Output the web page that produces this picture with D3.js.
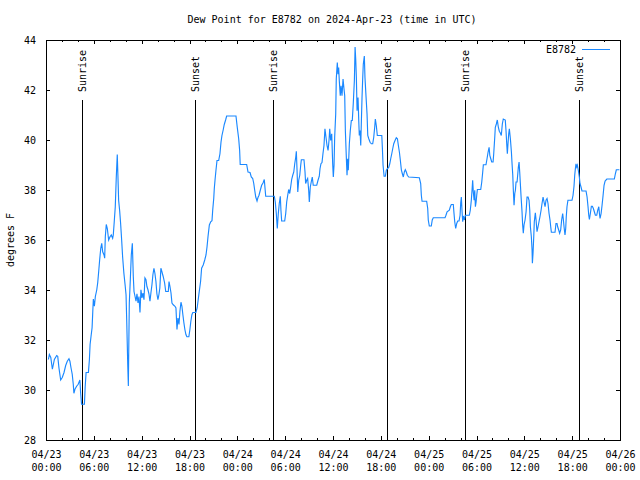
<!DOCTYPE html>
<html>
<head>
<meta charset="utf-8">
<script src="https://cdn.jsdelivr.net/npm/d3@7"></script>
<style>
  html, body { margin: 0; padding: 0; background: #fff; }
  text { font-family: "DejaVu Sans Mono", "Liberation Mono", monospace; font-size: 10px; fill: #000; }
</style>
</head>
<body>
<svg id="chart" width="640" height="480"></svg>
<script>
// ---- data ----
const chartTitle = "Dew Point for E8782 on 2024-Apr-23 (time in UTC)";
const yAxisLabel = "degrees F";
const seriesName = "E8782";
const startTime = "2024-04-23T00:00:00Z";
const endTime = "2024-04-26T00:00:00Z";

// hours since 2024-04-23 00:00 UTC
const hours = [
0.30,0.42,0.60,0.80,1.05,1.34,1.47,1.63,1.84,2.04,2.26,2.47,2.67,2.88,3.00,3.13,3.29,3.42,3.50,3.63,
3.84,4.04,4.25,4.34,4.46,4.82,4.91,5.03,5.32,5.44,5.53,5.65,5.78,5.87,5.94,6.07,6.19,6.37,6.49,6.62,
6.74,6.87,6.99,7.11,7.28,7.36,7.44,7.56,7.69,7.86,8.03,8.19,8.36,8.44,8.56,8.69,8.81,8.94,9.02,9.11,
9.24,9.36,9.49,9.61,9.77,9.92,10.04,10.13,10.25,10.33,10.38,10.45,10.58,10.70,10.83,10.95,11.04,11.17,11.29,11.41,
11.54,11.66,11.79,11.91,12.04,12.16,12.29,12.41,12.54,12.66,12.79,12.91,13.04,13.16,13.29,13.41,13.54,13.66,13.79,13.91,
14.04,14.16,14.28,14.41,14.53,14.70,14.88,15.02,15.34,15.43,15.55,15.68,15.80,15.96,16.18,16.30,16.43,16.55,16.68,16.80,
16.93,17.05,17.17,17.30,17.42,17.55,17.67,17.92,18.05,18.17,18.30,18.42,18.80,18.96,19.17,19.39,19.52,19.72,19.91,20.07,
20.20,20.32,20.49,20.66,20.82,20.91,21.04,21.11,21.20,21.32,21.45,21.66,21.82,21.95,22.07,22.23,22.36,22.53,22.66,23.83,
23.99,24.17,24.29,24.36,25.17,25.34,25.59,25.75,25.93,26.06,26.18,26.31,26.47,26.59,26.72,26.88,27.05,27.22,27.38,27.56,
28.64,28.76,28.89,29.01,29.14,29.26,29.39,29.47,29.56,29.94,30.07,30.19,30.32,30.44,30.57,30.69,30.82,30.95,31.08,31.20,
31.33,31.40,31.49,31.58,31.70,31.83,31.95,32.03,32.36,32.49,32.57,32.70,32.82,32.95,33.03,33.15,33.27,33.40,33.52,33.96,
34.12,34.28,34.37,34.49,34.62,34.74,34.87,34.99,35.12,35.25,35.38,35.50,35.59,35.71,35.84,35.96,36.04,36.13,36.21,36.34,
36.41,36.54,36.63,36.71,36.79,36.91,37.01,37.13,37.26,37.38,37.47,37.55,37.67,37.76,37.84,37.92,38.05,38.17,38.30,38.42,
38.55,38.68,38.77,38.85,38.93,39.02,39.14,39.23,39.30,39.39,39.48,39.55,39.64,39.73,39.80,39.93,40.01,40.15,40.27,40.36,
40.49,40.65,40.81,40.98,41.11,41.23,41.31,41.43,41.56,42.12,42.19,42.28,42.41,42.57,42.69,42.82,42.99,43.12,43.24,43.37,
43.49,43.62,43.78,43.94,44.08,44.20,44.33,44.45,44.58,44.70,44.82,44.95,45.07,45.20,45.32,45.50,46.83,47.00,47.08,47.17,
47.75,47.88,47.95,48.08,48.33,48.45,48.58,50.05,50.17,50.31,50.59,50.72,50.84,51.09,51.18,51.27,51.39,51.52,51.64,51.81,
51.94,52.02,52.10,52.19,52.27,52.35,52.48,52.60,53.10,53.22,53.35,53.44,53.52,53.60,53.70,53.78,53.86,53.95,54.03,54.11,
54.53,54.66,54.78,54.86,55.19,55.32,55.45,55.58,55.67,55.79,55.91,56.08,56.16,56.29,56.36,56.49,56.61,56.74,56.86,56.99,
57.11,57.24,57.36,57.61,57.70,57.79,57.87,57.95,58.04,58.12,58.25,58.38,58.46,58.55,58.63,58.71,58.80,58.88,58.96,59.09,
59.18,59.25,59.34,59.42,59.50,59.58,59.71,59.79,59.87,59.96,60.09,60.22,60.34,60.47,60.59,60.68,60.76,60.88,60.97,61.01,
61.09,61.18,61.25,61.38,61.47,61.59,61.72,61.84,61.96,62.10,62.22,62.35,62.47,62.60,62.72,62.85,62.97,63.10,63.22,63.31,
63.39,63.85,63.97,64.10,64.18,64.31,64.43,64.56,64.68,64.81,64.88,64.98,65.10,65.19,65.26,65.35,65.47,65.98,66.11,66.23,
66.32,66.40,66.48,66.57,66.65,66.77,66.90,66.98,67.11,67.23,67.74,67.87,67.99,68.08,68.16,68.28,68.41,68.53,68.66,68.78,
68.91,69.08,69.21,69.34,69.42,69.50,69.63,69.75,69.88,70.00,70.13,70.35,71.29,71.42,71.54,71.92
];

// dew point, degrees F
const dewPointF = [
31.22,31.42,31.3,30.83,31.22,31.38,31.35,30.87,30.4,30.5,30.7,30.98,31.15,31.25,31.15,30.9,30.63,30.23,29.87,30.03,
30.15,30.23,30.4,29.9,29.43,29.43,30.1,30.7,30.7,31.2,31.82,32.15,32.49,33.15,33.64,33.35,33.74,34.01,34.3,34.78,
35.24,35.67,35.87,35.53,35.4,35.27,36.13,36.62,36.46,36.0,36.13,36.2,36.07,36.2,36.73,37.33,38.46,39.42,38.59,37.59,
37.17,36.66,36.0,35.33,34.67,34.21,33.81,32.71,31.06,30.16,31.62,33.48,34.44,35.4,35.87,34.54,33.94,33.74,33.55,33.85,
33.48,33.74,33.1,34.01,33.68,33.88,33.61,34.48,34.41,34.14,34.01,33.85,33.55,33.88,34.21,34.61,34.87,34.67,34.34,33.85,
33.61,33.81,34.08,34.87,34.74,34.54,34.28,33.94,33.94,34.34,34.14,33.88,33.48,33.41,33.35,33.28,32.42,32.88,32.62,33.15,
33.51,33.35,33.01,32.68,32.42,32.22,32.13,32.13,32.42,32.75,33.01,33.1,33.1,33.28,33.81,34.34,34.87,35.0,35.2,35.4,
35.73,36.13,36.6,36.73,36.77,37.19,37.66,38.06,38.39,38.79,39.18,39.18,39.45,39.91,40.18,40.41,40.62,40.8,40.96,40.96,
40.51,40.05,39.58,39.02,39.02,38.72,38.7,38.52,38.46,38.26,37.99,37.72,37.56,37.7,37.79,37.99,38.19,38.28,38.42,37.75,
37.75,37.52,37.06,36.46,37.06,37.46,37.75,37.19,36.76,36.76,37.06,37.52,37.79,38.02,37.86,38.12,38.43,38.59,38.72,39.05,
39.32,39.55,38.79,37.92,38.39,38.59,38.99,39.21,39.21,38.72,38.26,38.39,38.46,37.99,37.52,38.12,38.32,38.52,38.19,38.19,
38.39,38.55,38.85,39.05,39.1,39.45,39.78,40.45,40.11,39.78,39.58,39.98,40.45,39.98,40.25,39.05,38.52,38.99,40.11,41.04,
42.44,43.1,42.63,42.9,42.37,41.77,42.17,41.77,42.44,42.04,41.77,40.38,39.32,38.59,39.25,38.79,39.85,40.38,40.78,40.78,
41.5,42.37,43.72,43.23,42.5,41.17,41.7,40.78,40.18,40.38,39.78,40.64,41.7,42.5,43.03,43.36,42.5,41.7,41.04,40.18,
40.05,39.91,39.85,39.85,40.11,40.51,40.84,40.58,40.18,40.18,39.71,38.99,38.55,38.55,38.79,38.85,38.9,39.05,39.25,39.45,
39.65,39.85,39.98,40.09,40.05,39.78,39.51,39.18,38.79,38.65,38.52,38.72,38.81,38.72,38.59,38.52,38.49,38.26,37.79,37.55,
37.55,37.26,36.8,36.56,36.56,36.8,36.89,36.89,36.99,37.13,37.19,37.33,37.42,37.42,37.06,36.73,36.46,36.66,36.76,36.76,
36.99,37.49,37.72,37.13,36.73,36.96,36.8,36.99,36.99,37.19,37.59,37.99,38.39,37.92,37.59,37.99,37.33,37.52,37.79,38.02,
38.02,38.32,38.72,39.01,39.01,39.25,39.51,39.71,39.38,39.25,39.12,39.12,39.45,40.11,40.51,40.64,40.8,40.51,40.35,40.28,
40.18,40.64,40.84,40.8,40.38,39.85,39.45,39.85,40.25,40.45,40.05,39.51,39.05,38.59,37.92,37.39,37.86,37.99,38.32,38.32,
38.65,38.92,39.12,38.72,38.26,37.79,37.13,36.6,36.27,36.6,36.8,37.13,37.72,37.72,37.59,37.19,36.53,36.13,35.6,35.07,
35.47,36.13,36.73,37.09,36.8,36.33,36.53,36.73,36.93,37.19,37.46,37.72,37.52,37.33,37.59,37.66,37.46,37.06,36.8,36.53,
36.31,36.31,36.66,36.66,36.53,36.4,36.27,36.4,36.8,37.06,36.86,36.53,36.2,36.46,36.93,37.33,37.59,37.59,37.79,38.15,
38.59,38.85,39.05,38.92,38.99,38.79,38.52,38.26,38.12,37.96,37.96,37.72,37.33,36.99,36.82,37.06,37.35,37.35,37.26,37.13,
36.99,36.99,37.19,37.33,37.06,36.86,37.06,37.39,37.79,38.19,38.36,38.44,38.44,38.65,38.81,38.81
];

const sunEventTimes = [
  "2024-04-23T04:33:00Z", "2024-04-23T18:45:00Z",
  "2024-04-24T04:32:00Z", "2024-04-24T18:49:00Z",
  "2024-04-25T04:35:00Z", "2024-04-25T18:53:00Z"
];
const sunEventLabels = ["Sunrise", "Sunset", "Sunrise", "Sunset", "Sunrise", "Sunset"];

const yTickValues = [28, 30, 32, 34, 36, 38, 40, 42, 44];

// ---- drawing ----
const W = 640, H = 480;
const mLeft = 46, mRight = 620, mTop = 40, mBottom = 440;
const lineColor = "#1a88ff";

const svg = d3.select("#chart");
svg.append("rect").attr("width", W).attr("height", H).attr("fill", "#fff");

const t0 = new Date(startTime).getTime();
const points = hours.map((h, i) => ({ t: new Date(t0 + h * 3600e3), v: dewPointF[i] }));

const x = d3.scaleUtc().domain([new Date(startTime), new Date(endTime)]).range([mLeft, mRight]);
const y = d3.scaleLinear().domain([28, 44]).range([mBottom, mTop]);

const minorTicks = d3.utcHour.every(2);
const majorTicks = d3.utcHour.every(6);

function styleAxis(g) {
  g.select(".domain").remove();
  g.selectAll("line").attr("stroke", "#000").attr("shape-rendering", "crispEdges");
}

svg.append("g").attr("transform", `translate(0,${mBottom})`)
  .call(d3.axisBottom(x).ticks(minorTicks).tickSize(-2).tickFormat(""))
  .call(styleAxis);
svg.append("g").attr("transform", `translate(0,${mTop})`)
  .call(d3.axisTop(x).ticks(minorTicks).tickSize(-2).tickFormat(""))
  .call(styleAxis);
svg.append("g").attr("transform", `translate(0,${mTop})`)
  .call(d3.axisTop(x).ticks(majorTicks).tickSize(-4).tickFormat(""))
  .call(styleAxis);

const fmtDay = d3.utcFormat("%m/%d");
const fmtTime = d3.utcFormat("%H:%M");
const xb = svg.append("g").attr("transform", `translate(0,${mBottom})`)
  .call(d3.axisBottom(x).ticks(majorTicks).tickSize(-4).tickPadding(0).tickFormat(""))
  .call(styleAxis);
xb.selectAll(".tick text").remove();
xb.selectAll(".tick").each(function(d) {
  const tx = d3.select(this).append("text").attr("text-anchor", "middle").attr("fill", "#000");
  tx.append("tspan").attr("x", 0).attr("y", 18).text(fmtDay(d));
  tx.append("tspan").attr("x", 0).attr("y", 31).text(fmtTime(d));
});

const yl = svg.append("g").attr("transform", `translate(${mLeft},0)`)
  .call(d3.axisLeft(y).tickValues(yTickValues).tickSize(-4).tickPadding(10).tickFormat(d3.format("d")))
  .call(styleAxis);
yl.selectAll("text").attr("fill", "#000").attr("dy", "0.35em")
  .style("font-family", "'DejaVu Sans Mono', monospace").style("font-size", "10px");
svg.append("g").attr("transform", `translate(${mRight},0)`)
  .call(d3.axisRight(y).tickValues(yTickValues).tickSize(-4).tickFormat(""))
  .call(styleAxis);

// sunrise / sunset lines
const sunG = svg.append("g");
sunEventTimes.forEach((s, i) => {
  const sx = Math.round(x(new Date(s))) + 0.5;
  sunG.append("line").attr("x1", sx).attr("x2", sx).attr("y1", 100).attr("y2", mBottom)
    .attr("stroke", "#000").attr("stroke-width", 1).attr("shape-rendering", "crispEdges");
  sunG.append("text").attr("transform", `translate(${sx},92) rotate(-90)`)
    .attr("text-anchor", "start").attr("dy", "0.35em").text(sunEventLabels[i]);
});

// clip + data line
svg.append("clipPath").attr("id", "plotclip").append("rect")
  .attr("x", mLeft).attr("y", mTop).attr("width", mRight - mLeft).attr("height", mBottom - mTop);
const line = d3.line().x(d => x(d.t)).y(d => y(d.v));
svg.append("path").datum(points)
  .attr("clip-path", "url(#plotclip)")
  .attr("fill", "none").attr("stroke", lineColor).attr("stroke-width", 1.15)
  .attr("stroke-linejoin", "miter")
  .attr("d", line);

// frame
svg.append("rect").attr("x", mLeft + 0.5).attr("y", mTop + 0.5)
  .attr("width", mRight - mLeft).attr("height", mBottom - mTop)
  .attr("fill", "none").attr("stroke", "#000").attr("stroke-width", 1)
  .attr("shape-rendering", "crispEdges");

// legend
svg.append("text").attr("x", 576).attr("y", 49).attr("dy", "0.35em")
  .attr("text-anchor", "end").text(seriesName);
svg.append("line").attr("x1", 582).attr("x2", 610).attr("y1", 49.5).attr("y2", 49.5)
  .attr("stroke", lineColor).attr("stroke-width", 1);

// title
svg.append("text").attr("x", 332).attr("y", 23).attr("text-anchor", "middle").text(chartTitle);

// y label
svg.append("text").attr("transform", `translate(10,240) rotate(-90)`)
  .attr("text-anchor", "middle").attr("dy", "0.35em").text(yAxisLabel);
</script>
</body>
</html>
